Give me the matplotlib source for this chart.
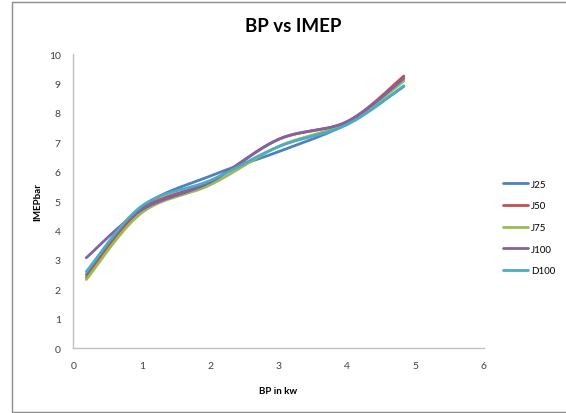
import numpy as np
import matplotlib.pyplot as plt
from matplotlib.patches import Rectangle

# Brake power (kW) and IMEP (bar) for each fuel blend
bp = [0.19, 1.0, 2.0, 3.0, 4.0, 4.83]
j25 = [2.50, 4.78, 5.85, 6.68, 7.62, 8.90]
j50 = [2.40, 4.70, 5.66, 7.10, 7.70, 9.25]
j75 = [2.33, 4.60, 5.55, 6.86, 7.66, 9.08]
j100 = [3.07, 4.70, 5.64, 7.10, 7.70, 9.17]
d100 = [2.60, 4.83, 5.70, 6.85, 7.60, 8.92]

series = [("J25", j25, "#4F81BD"),
          ("J50", j50, "#C0504D"),
          ("J75", j75, "#9BBB59"),
          ("J100", j100, "#8064A2"),
          ("D100", d100, "#4BACC6")]

plt.rcParams['font.family'] = ['Lato', 'DejaVu Sans']


def smooth(xs, ys, n=40):
    # bezier smoothing like a spreadsheet "smoothed line"
    p = np.column_stack([xs, ys]).astype(float)
    out = []
    for i in range(len(p) - 1):
        p0 = p[i - 1] if i > 0 else p[i]
        p3 = p[i + 2] if i + 2 < len(p) else p[i + 1]
        c1 = p[i] + (p[i + 1] - p0) / 6.0
        c2 = p[i + 1] - (p3 - p[i]) / 6.0
        t = np.linspace(0, 1, n)[:, None]
        seg = ((1 - t) ** 3 * p[i] + 3 * (1 - t) ** 2 * t * c1
               + 3 * (1 - t) * t ** 2 * c2 + t ** 3 * p[i + 1])
        out.append(seg if i == 0 else seg[1:])
    out = np.vstack(out)
    return out[:, 0], out[:, 1]


fig = plt.figure(figsize=(5.66, 4.14), dpi=100)
ax = fig.add_axes([0.1295, 0.157, 0.7255, 0.71])

for name, vals, col in series:
    sx, sy = smooth(bp, vals)
    ax.plot(sx, sy, color=col, lw=2.0, label=name, solid_capstyle='round')

ax.set_xlim(0, 6)
ax.set_ylim(0, 10)
ax.set_xticks(range(0, 7))
ax.set_yticks(range(0, 11))
for s in ['top', 'right']:
    ax.spines[s].set_visible(False)
for s in ['left', 'bottom']:
    ax.spines[s].set_color('#BFBFBF')
    ax.spines[s].set_linewidth(1.0)
ax.tick_params(length=0, labelsize=7.5, colors='#404040', pad=9)

ax.set_xlabel("BP in kw", fontsize=7, fontweight='bold', labelpad=12)
ax.set_ylabel("IMEPbar", fontsize=7, fontweight='bold', labelpad=5)
fig.text(0.518, 0.935, "BP vs IMEP", fontsize=13.5, fontweight='bold',
         ha='center', va='center')

ax.legend(loc='center left', bbox_to_anchor=(1.025, 0.41), frameon=False,
          fontsize=7, handlelength=2.6, labelspacing=1.3, handletextpad=0.3)

fig.patches.append(Rectangle((12 / 566, 1 / 414), 1.0, 410 / 414,
                             transform=fig.transFigure, fill=False,
                             edgecolor='#8C8C8C', lw=1.0))

fig.savefig("out.png", dpi=100)
